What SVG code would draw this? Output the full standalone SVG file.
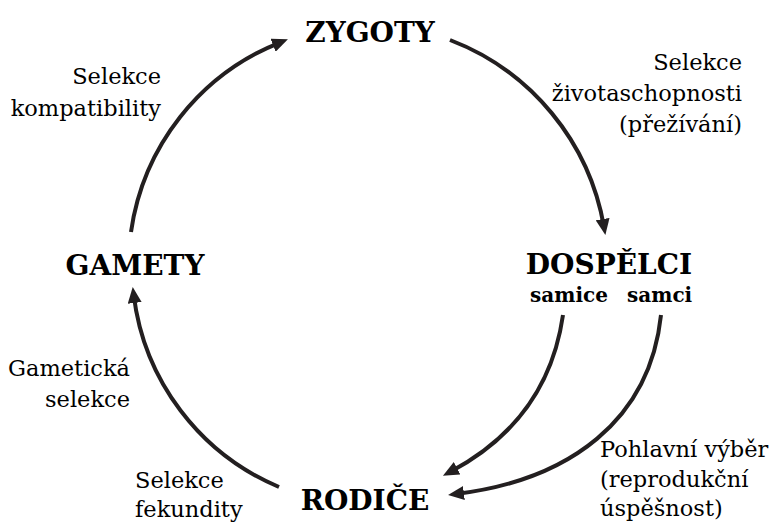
<svg xmlns="http://www.w3.org/2000/svg" width="776" height="522" viewBox="0 0 776 522">
<style>
.node{font-weight:bold;font-size:28px;text-anchor:middle}
.sub{font-weight:bold;font-size:20px}
.lbl{font-size:22.5px}
.r{text-anchor:end}
.conn{fill:none;stroke:#231f20;stroke-width:4;marker-end:url(#ah)}
</style>
<defs>
<marker id="ah" markerUnits="userSpaceOnUse" viewBox="0 0 16 14" markerWidth="16" markerHeight="14" refX="8" refY="7" orient="auto">
<path d="M0,0 L16,7 L0,14 z" fill="#231f20"/>
</marker>
</defs>
<g id="connectors">
<path class="conn" d="M131,232 A240,240 0 0 1 280.5,42.3"/>
<path class="conn" d="M450,40 A245,245 0 0 1 604,227"/>
<path class="conn" d="M563,315 Q548,420 450,472"/>
<path class="conn" d="M661,315 C650,420 570,480 456,494"/>
<path class="conn" d="M279,487 A240,240 0 0 1 133.7,295"/>
</g>
<g font-family="DejaVu Serif, serif" fill="#000">
<g id="zygoty"><text class="node" x="370" y="42">ZYGOTY</text></g>
<g id="dospelci">
<text class="node" x="609" y="274">DOSPĚLCI</text>
<text class="sub" x="530" y="302">samice</text>
<text class="sub" x="627" y="302">samci</text>
</g>
<g id="rodice"><text class="node" x="365" y="510">RODIČE</text></g>
<g id="gamety"><text class="node" x="135" y="275">GAMETY</text></g>
<g id="label-kompatibility">
<text class="lbl r" x="161" y="84">Selekce</text>
<text class="lbl r" x="161" y="116">kompatibility</text>
</g>
<g id="label-zivotaschopnost">
<text class="lbl r" x="742" y="70">Selekce</text>
<text class="lbl r" x="742" y="101">životaschopnosti</text>
<text class="lbl r" x="742" y="132">(přežívání)</text>
</g>
<g id="label-pohlavni">
<text class="lbl" x="600" y="457">Pohlavní výběr</text>
<text class="lbl" x="600" y="487">(reprodukční</text>
<text class="lbl" x="600" y="516">úspěšnost)</text>
</g>
<g id="label-gameticka">
<text class="lbl r" x="130" y="376">Gametická</text>
<text class="lbl r" x="130" y="407">selekce</text>
</g>
<g id="label-fekundita">
<text class="lbl" x="135" y="488">Selekce</text>
<text class="lbl" x="135" y="517">fekundity</text>
</g>
</g>
</svg>
